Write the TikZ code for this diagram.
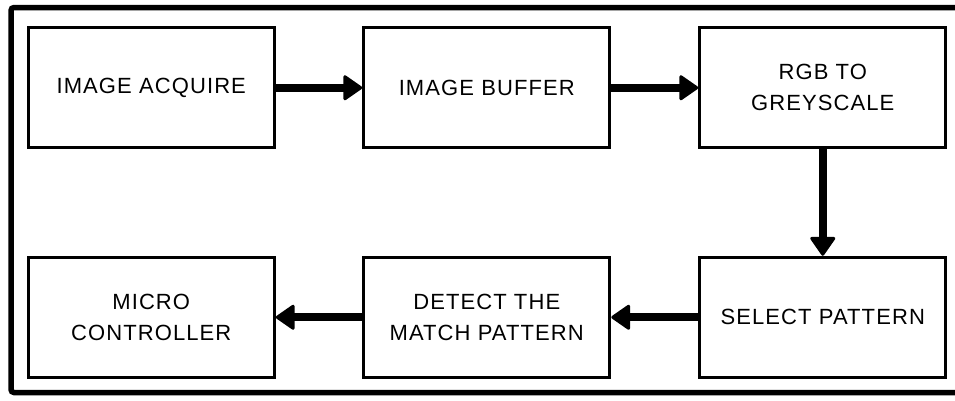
\documentclass[tikz,border=0pt]{standalone}
\usepackage{fontspec}
\setmainfont[LetterSpace=5]{Liberation Sans}
\usetikzlibrary{arrows.meta}
\begin{document}
\begin{tikzpicture}[x=1pt,y=-1pt,
  blk/.style={draw=black, line width=3pt, minimum width=246pt, minimum height=120pt,
    align=center, font=\fontsize{22}{31}\selectfont, inner sep=0pt},
  flow/.style={line width=8pt, -{Triangle[length=20pt,width=27pt,round,line width=3pt]}}]
\useasboundingbox (0,0) rectangle (955,400);
\clip (0,0) rectangle (955,400);
\draw[line width=5.5pt, rounded corners=3pt] (11,7.5) rectangle (970,392.5);
\node[blk] (acq) at (151.25,87.75) {IMAGE ACQUIRE};
\node[blk] (buf) at (486.75,87.75) {IMAGE BUFFER};
\node[blk] (rgb) at (822.75,87.75) {RGB TO\\GREYSCALE};
\node[blk] (mcu) at (151.25,317.25) {MICRO\\CONTROLLER};
\node[blk] (det) at (486.75,317.25) {DETECT THE\\MATCH PATTERN};
\node[blk] (sel) at (822.75,317.25) {SELECT PATTERN};
\draw[flow] (acq) -- (buf);
\draw[flow] (buf) -- (rgb);
\draw[flow] (rgb) -- (sel);
\draw[flow] (sel) -- (det);
\draw[flow] (det) -- (mcu);
\end{tikzpicture}
\end{document}
